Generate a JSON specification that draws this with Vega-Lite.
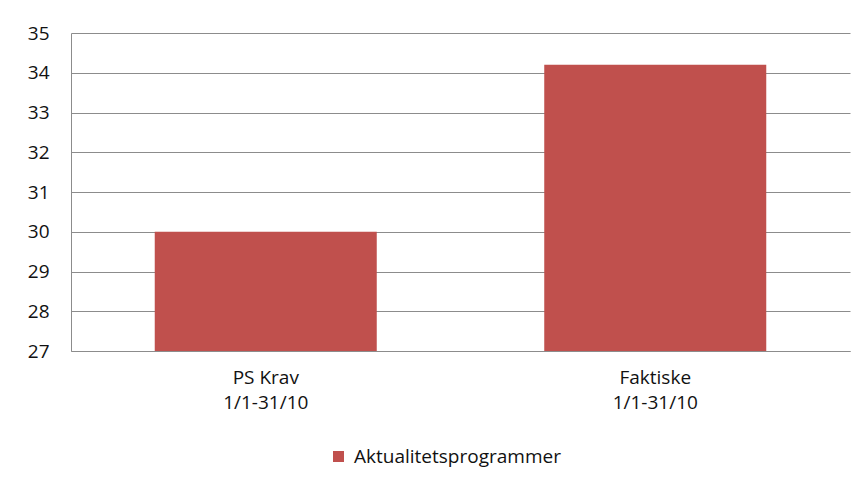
{
  "$schema": "https://vega.github.io/schema/vega-lite/v6.json",
  "autosize": {"type": "none"},
  "width": 779,
  "height": 318,
  "padding": {"left": 71, "top": 33, "right": 4, "bottom": 133},
  "background": "white",
  "data": {"values": [
    {"kategori": "PS Krav\n1/1-31/10", "serie": "Aktualitetsprogrammer", "verdi": 30},
    {"kategori": "Faktiske\n1/1-31/10", "serie": "Aktualitetsprogrammer", "verdi": 34.2}
  ]},
  "config": {
    "view": {"stroke": null},
    "font": "Open Sans"
  },
  "mark": {"type": "bar", "color": "#C0504D", "clip": true},
  "encoding": {
    "x": {
      "field": "kategori", "type": "nominal", "sort": null,
      "scale": {"paddingInner": 0.43, "paddingOuter": 0.215},
      "axis": {
        "title": null, "labelAngle": 0, "ticks": false,
        "labelExpr": "split(datum.label, '\\n')",
        "labelFont": "Open Sans", "labelFontSize": 19, "labelColor": "#111111",
        "labelLineHeight": 25, "labelPadding": 17, "labelBaseline": "top",
        "domainColor": "#8c8c8c", "domainWidth": 1
      }
    },
    "y": {
      "field": "verdi", "type": "quantitative",
      "scale": {"domain": [27, 35], "zero": false, "nice": false},
      "axis": {
        "title": null, "values": [27,28,29,30,31,32,33,34,35],
        "ticks": false, "labelPadding": 22, "labelOverlap": false,
        "labelFont": "Open Sans", "labelFontSize": 19, "labelColor": "#111111",
        "grid": true, "gridColor": "#8c8c8c", "gridWidth": 1,
        "domainColor": "#8c8c8c", "domainWidth": 1
      }
    },
    "color": {
      "field": "serie", "type": "nominal",
      "scale": {"range": ["#C0504D"]},
      "legend": {
        "title": null, "orient": "none", "legendX": 258, "legendY": 414,
        "direction": "horizontal", "padding": 0,
        "symbolType": "square", "symbolSize": 121, "symbolStrokeWidth": 0,
        "symbolFillColor": "#C0504D", "symbolOpacity": 1,
        "labelFont": "Open Sans", "labelFontSize": 19, "labelColor": "#111111",
        "labelOffset": 6, "labelLimit": 400
      }
    }
  }
}
